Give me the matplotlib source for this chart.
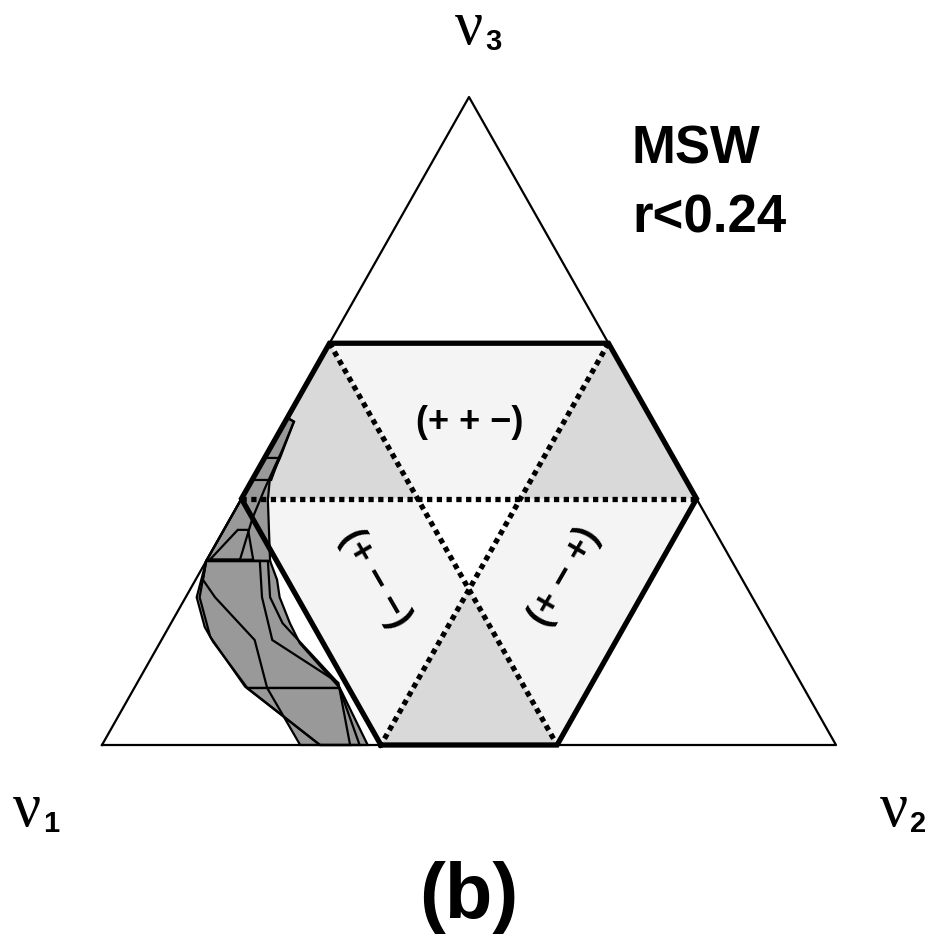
import matplotlib.pyplot as plt
import numpy as np
from matplotlib.patches import Polygon

# ternary diagram: fractions of nu1, nu2, nu3 (f1 = 1 - f2 - f3)
H = 648 / 734.0          # height of the triangle (side = 1), as drawn in the original
edge = 0.38              # sign-region boundary / hexagon boundary (1 - 0.62)

# grey allowed regions (MSW), given as (f2, f3) per vertex
blob_A_f2 = [0.0, 0.012, 0.021, 0.024, 0.037, 0.087, 0.0]
blob_A_f3 = [0.505, 0.499, 0.443, 0.409, 0.378, 0.284, 0.284]
blob_B_f2 = [0.0, 0.015, 0.049, 0.072, 0.154, 0.280, 0.191, 0.162, 0.128, 0.111, 0.087]
blob_B_f3 = [0.284, 0.228, 0.182, 0.159, 0.088, 0.088, 0.157, 0.188, 0.228, 0.255, 0.284]
blob_C_f2 = [0.154, 0.280, 0.362, 0.297]
blob_C_f3 = [0.088, 0.088, 0.0, 0.0]
blob_D_f2 = [0.0, 0.010, 0.040, 0.127, 0.181, 0.270, 0.338, 0.274, 0.151, 0.104, 0.073]
blob_D_f3 = [0.284, 0.255, 0.228, 0.162, 0.088, 0.0, 0.0, 0.096, 0.162, 0.228, 0.284]
blob_E_f2 = [0.0, 0.019, 0.064, 0.150, 0.297, 0.351, 0.272, 0.152, 0.115, 0.084]
blob_E_f3 = [0.284, 0.228, 0.167, 0.090, 0.0, 0.0, 0.097, 0.188, 0.228, 0.284]
blob_F_f2 = [0.004, 0.019, 0.033, 0.063]
blob_F_f3 = [0.286, 0.332, 0.332, 0.286]
blob_G_f2 = [0.0, 0.020, 0.026, 0.0]
blob_G_f3 = [0.443, 0.443, 0.409, 0.409]
blob_I_f2 = [0.0, 0.012, 0.018, 0.024, 0.030, 0.045, 0.0]
blob_I_f3 = [0.505, 0.499, 0.455, 0.395, 0.350, 0.286, 0.286]
blobs = [(blob_A_f2, blob_A_f3), (blob_B_f2, blob_B_f3), (blob_C_f2, blob_C_f3),
         (blob_D_f2, blob_D_f3), (blob_E_f2, blob_E_f3), (blob_F_f2, blob_F_f3),
         (blob_G_f2, blob_G_f3), (blob_I_f2, blob_I_f3)]


def tern(f2, f3):
    f2 = np.asarray(f2, float)
    f3 = np.asarray(f3, float)
    return np.column_stack([f2 + 0.5 * f3, H * f3])


a = edge
# hexagon corners and inner crossing points (f2, f3)
H1 = (a, 0)
H2 = (1 - a, 0)
H3 = (1 - a, a)
H4 = (a, 1 - a)
H5 = (0, 1 - a)
H6 = (0, a)
P1 = (1 - 2 * a, a)
P2 = (a, a)
C = (a, 1 - 2 * a)

light = '#f4f4f4'
mid = '#d9d9d9'
regions = [([H5, H4, P2, P1], light),
           ([H5, P1, H6], mid),
           ([H4, H3, P2], mid),
           ([H6, P1, C, H1], light),
           ([P2, H3, H2, C], light),
           ([C, H2, H1], mid),
           ([P1, P2, C], 'white')]

fig = plt.figure(figsize=(9.37, 9.41), dpi=100)
ax = fig.add_axes([0, 0, 1, 1])
ax.set_xlim(-102 / 734, 835 / 734)
ax.set_ylim(-196 / 734, 745 / 734)
ax.axis('off')

for pts, col in regions:
    f2s = [p[0] for p in pts]
    f3s = [p[1] for p in pts]
    ax.add_patch(Polygon(tern(f2s, f3s), closed=True, fc=col, ec='none', zorder=1))

# fills first, then every contour on top so the overlapping outlines all show
for f2s, f3s in blobs:
    ax.add_patch(Polygon(tern(f2s, f3s), closed=True, fc='#999999', ec='none', zorder=2))
for f2s, f3s in blobs:
    ax.add_patch(Polygon(tern(f2s, f3s), closed=True, fill=False, ec='black',
                         lw=1.6, joinstyle='miter', zorder=2.5))

# dotted sign-change lines
dot = dict(color='black', lw=3.8, ls=(0, (1.0, 0.85)), zorder=3)
for p, q in [(H6, H3), (H5, H2), (H4, H1)]:
    xy = tern([p[0], q[0]], [p[1], q[1]])
    ax.plot(xy[:, 0], xy[:, 1], **dot)

# outer triangle
tri = tern([0, 1, 0, 0], [0, 0, 1, 0])
ax.plot(tri[:, 0], tri[:, 1], color='black', lw=1.6, zorder=4)

# hexagon outline
hexa = [H1, H2, H3, H4, H5, H6, H1]
xy = tern([p[0] for p in hexa], [p[1] for p in hexa])
ax.plot(xy[:, 0], xy[:, 1], color='black', lw=3.8, solid_joinstyle='miter', zorder=5)

# labels (figure-fraction placement)
W, Hh = 937.0, 941.0


def ftxt(px, py, s, **kw):
    fig.text(px / W, 1 - py / Hh, s, **kw)


serif = dict(family='Liberation Serif', fontsize=45, va='baseline', ha='center')
sub = dict(family='Liberation Sans', fontweight='bold', fontsize=21, va='baseline', ha='left')
ftxt(469, 44, 'ν', **serif)
ftxt(485, 50, '3', **sub)
ftxt(27, 826, 'ν', **serif)
ftxt(43, 832, '1', **sub)
ftxt(894, 826, 'ν', **serif)
ftxt(910, 832, '2', **sub)

bold = dict(family='Liberation Sans', fontweight='bold')
ftxt(632, 163, 'MSW', fontsize=38, va='baseline', ha='left', **bold)
ftxt(632, 232, 'r<0.24', fontsize=38, va='baseline', ha='left', **bold)
ftxt(469, 918, '(b)', fontsize=56, va='baseline', ha='center', **bold)

lab = dict(fontsize=26, va='center', ha='center', rotation_mode='anchor', **bold)
ftxt(470, 422, '(+ + \u2212)', **lab)
ftxt(375, 579, '(+ \u2212 \u2212)', rotation=-60, **lab)
ftxt(565, 577, '(+ \u2212 +)', rotation=60, **lab)

fig.savefig('out.png', dpi=100)
